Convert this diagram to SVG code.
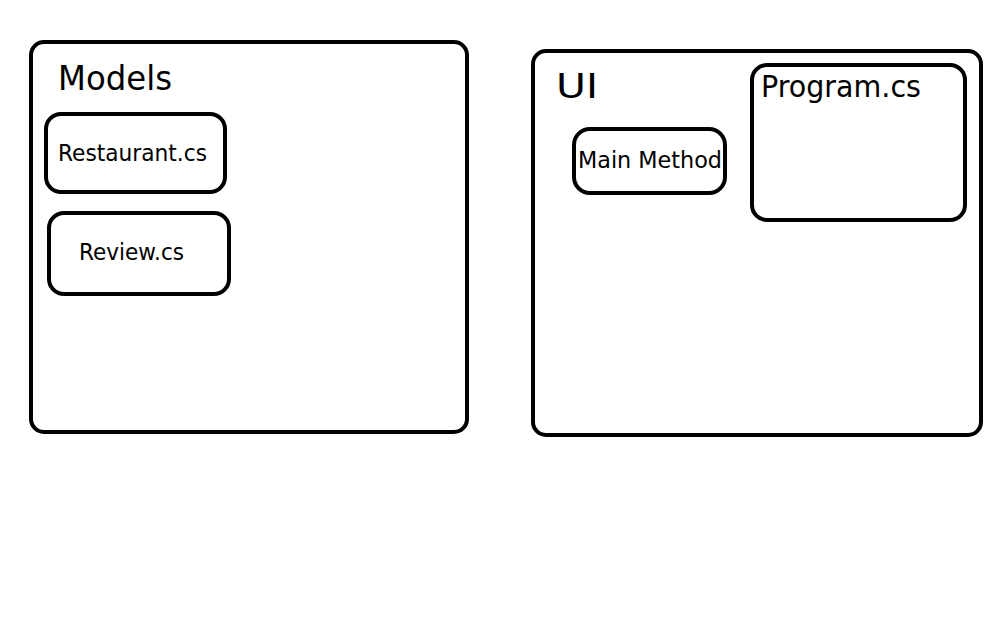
<svg xmlns="http://www.w3.org/2000/svg" width="1008" height="630" viewBox="0 0 1008 630">
<style>
.box{fill:none;stroke:#000;stroke-width:4}
text{font-family:"Comic Sans MS","DejaVu Sans",sans-serif;fill:#000}
.big{font-size:34px}
.mid{font-size:31px}
.small{font-size:23px}
</style>
<rect width="1008" height="630" fill="#fff"/>
<g id="models">
<rect class="box" x="31" y="42" width="436" height="390" rx="13"/>
<text class="big" x="58" y="90" textLength="114" lengthAdjust="spacingAndGlyphs">Models</text>
</g>
<g id="restaurant">
<rect class="box" x="46" y="114" width="179" height="78" rx="15"/>
<text class="small" x="58" y="161" textLength="149" lengthAdjust="spacingAndGlyphs">Restaurant.cs</text>
</g>
<g id="review">
<rect class="box" x="49" y="213" width="180" height="81" rx="15"/>
<text class="small" x="79" y="260" textLength="105" lengthAdjust="spacingAndGlyphs">Review.cs</text>
</g>
<g id="ui">
<rect class="box" x="533" y="51" width="448" height="384" rx="13"/>
<text class="big" x="556" y="98" textLength="42" lengthAdjust="spacingAndGlyphs">UI</text>
</g>
<g id="main-method">
<rect class="box" x="574" y="129" width="151" height="64" rx="16"/>
<text class="small" x="578" y="168" textLength="144" lengthAdjust="spacingAndGlyphs">Main Method</text>
</g>
<g id="program">
<rect class="box" x="752" y="65" width="213" height="155" rx="15"/>
<text class="mid" x="761" y="97" textLength="160" lengthAdjust="spacingAndGlyphs">Program.cs</text>
</g>
<g id="connectors"></g>
</svg>
